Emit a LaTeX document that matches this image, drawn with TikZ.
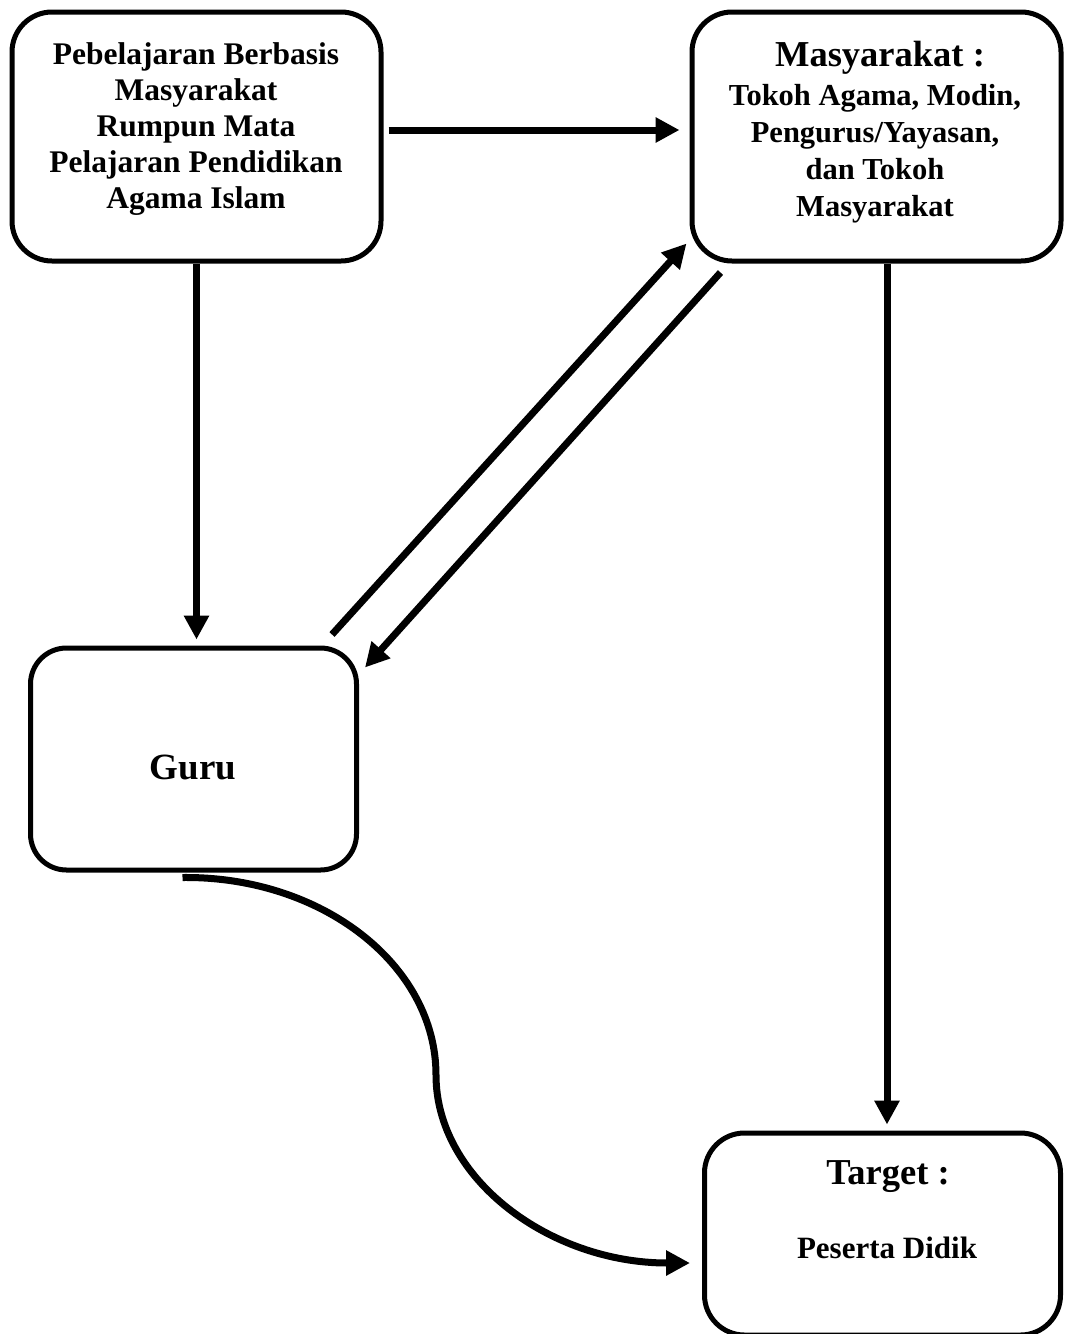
\documentclass[tikz,border=0pt]{standalone}
\usepackage{fontspec}
\setmainfont{Liberation Serif}
\usetikzlibrary{arrows.meta}
\tikzset{
  box/.style={draw, line width=5pt, rounded corners=40pt, inner sep=0pt},
  lbl/.style={align=center, inner sep=0pt, font=\bfseries},
  arr/.style={line width=7pt, -{Triangle[length=24pt,width=24pt]}},
}
\begin{document}
\begin{tikzpicture}[x=1pt,y=-1pt]
\useasboundingbox (0,0) rectangle (1066,1334);
% boxes
\node[box, minimum width=369pt, minimum height=249pt] (A) at (196.5,136.5) {};
\node[box, minimum width=369pt, minimum height=249pt] (B) at (876.5,136.5) {};
\node[box, minimum width=326pt, minimum height=222pt, rounded corners=36pt] (G) at (193.5,759) {};
\node[box, minimum width=356pt, minimum height=202pt] (T) at (882.5,1234) {};
% texts
\node[lbl, font=\bfseries\fontsize{31.5pt}{36pt}\selectfont] (tA) at (196,129)
  {Pebelajaran Berbasis\\Masyarakat\\Rumpun Mata\\Pelajaran Pendidikan\\Agama Islam};
\node[lbl, font=\bfseries\fontsize{36.5pt}{40pt}\selectfont] (tB1) at (880,58) {Masyarakat :};
\node[lbl, font=\bfseries\fontsize{30.5pt}{37pt}\selectfont] (tB2) at (875,154)
  {Tokoh Agama, Modin,\\Pengurus/Yayasan,\\dan Tokoh\\Masyarakat};
\node[lbl, font=\bfseries\fontsize{37pt}{40pt}\selectfont] (tG) at (193,767) {Guru};
\node[lbl, font=\bfseries\fontsize{36.5pt}{40pt}\selectfont] (tT1) at (888,1177) {Target :};
\node[lbl, font=\bfseries\fontsize{31pt}{36pt}\selectfont] (tT2) at (887,1248) {Peserta Didik};
% connectors
\coordinate (mid) at (436,1075);
\draw[arr, shorten <=5pt, shorten >=10pt] ([yshift=6.5pt]A.east) -- ([yshift=6.5pt]B.west);
\draw[arr, shorten >=6pt] (A.south) -- (A.south |- G.north);
\draw[arr, shorten >=6pt] ([xshift=10.5pt]B.south) -- ([xshift=10.5pt]B.south |- T.north);
\draw[arr] ([xshift=-27pt,yshift=11pt]G.north east) -- ([xshift=-3pt,yshift=-234pt]B.north west);
\draw[arr] ([xshift=31pt,yshift=-263pt]B.north west) -- ([xshift=6pt,yshift=-22pt]G.north east);
\draw[arr] ([xshift=-11pt,yshift=-5pt]G.south) .. controls (322,876) and (436,965) .. (mid)
  .. controls (436,1179) and (550,1263) .. ([xshift=-12pt,yshift=-29pt]T.west);
\end{tikzpicture}
\end{document}
